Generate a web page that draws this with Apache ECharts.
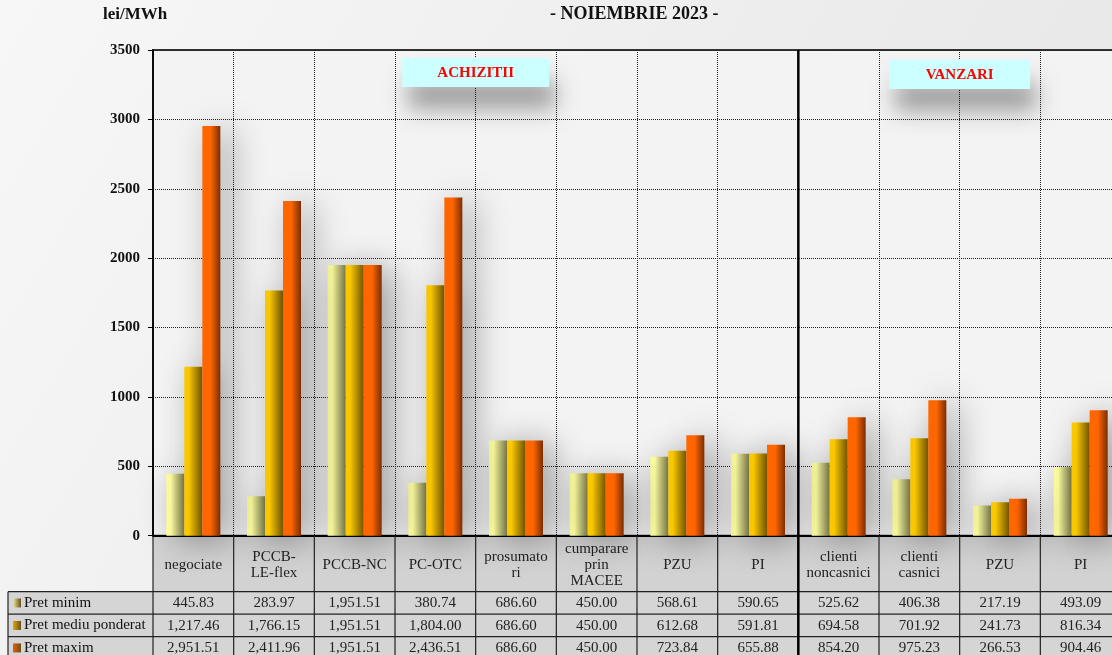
<!DOCTYPE html>
<html>
<head>
<meta charset="utf-8">
<script src="https://cdn.jsdelivr.net/npm/echarts@6/dist/echarts.min.js"></script>
<style>
    html, body { margin: 0; padding: 0; background: #f2f2f2; }
    #mainChart { width: 1112px; height: 655px; }
</style>
</head>
<body>
<div id="mainChart"></div>
<script>
// ---- date din tabel ----
var categories = ["negociate", "PCCB-\nLE-flex", "PCCB-NC", "PC-OTC", "prosumato\nri", "cumparare\nprin\nMACEE",
    "PZU", "PI", "clienti\nnoncasnici", "clienti\ncasnici", "PZU", "PI"];
var seriesNames = ["Pret minim", "Pret mediu ponderat", "Pret maxim"];
var pretMinim = [445.83, 283.97, 1951.51, 380.74, 686.60, 450.00, 568.61, 590.65, 525.62, 406.38, 217.19, 493.09];
var pretMediu = [1217.46, 1766.15, 1951.51, 1804.00, 686.60, 450.00, 612.68, 591.81, 694.58, 701.92, 241.73, 816.34];
var pretMaxim = [2951.51, 2411.96, 1951.51, 2436.51, 686.60, 450.00, 723.84, 655.88, 854.20, 975.23, 266.53, 904.46];
var groupLabels = ["ACHIZITII", "VANZARI"];
var groupCenters = [4, 10];   // granita dintre categorii unde sta eticheta
var separatorAt = 8;          // linia groasa intre achizitii si vanzari

(function () {
    "use strict";

    var FONT = "'Liberation Serif', 'Times New Roman', serif";
    var chart = echarts.init(document.getElementById("mainChart"));

    function grad(light, dark, stop) {
        return new echarts.graphic.LinearGradient(0, 0, 1, 0, [
            { offset: 0, color: light },
            { offset: stop, color: light },
            { offset: 1, color: dark },
        ]);
    }

    var colors = [
        grad("#ffffa0", "#7f7f50", 0.25),
        grad("#ffcc00", "#7a5c00", 0.25),
        grad("#ff6600", "#7a2e00", 0.45),
    ];
    var swatch = ["#e8e890", "#e0a800", "#e85a00"];

    function fmt(v) {
        var p = v.toFixed(2).split(".");
        p[0] = p[0].replace(/\B(?=(\d{3})+(?!\d))/g, ",");
        return p.join(".");
    }

    var dataRows = [pretMinim, pretMediu, pretMaxim];

    var series = dataRows.map(function (d, k) {
        return {
            name: seriesNames[k], type: "bar", data: d,
            barWidth: 18, barGap: "0%",
            itemStyle: {
                color: colors[k],
                shadowBlur: 34, shadowColor: "rgba(0,0,0,0.38)",
                shadowOffsetX: 10, shadowOffsetY: 4,
            },
        };
    });

    chart.setOption({
        animation: false,
        backgroundColor: new echarts.graphic.LinearGradient(0, 0, 1, 1, [
            { offset: 0, color: "#f7f7f7" },
            { offset: 1, color: "#e4e4e4" },
        ]),
        title: [
            { text: "- NOIEMBRIE 2023 -", left: 550, top: 5, padding: 0,
              textStyle: { fontFamily: FONT, fontSize: 18, fontWeight: "bold", color: "#111" } },
            { text: "lei/MWh", left: 103, top: 6, padding: 0,
              textStyle: { fontFamily: FONT, fontSize: 17, fontWeight: "bold", color: "#111" } },
        ],
        grid: {
            left: 153, top: 50, width: 968, height: 485.7,
            outerBoundsMode: "none",
            show: true, backgroundColor: "#f3f3f3",
            borderColor: "#333", borderWidth: 2,
        },
        xAxis: {
            type: "category", data: categories,
            axisLine: { lineStyle: { color: "#000", width: 2 } },
            axisTick: { show: false },
            axisLabel: {
                interval: 0, margin: 29, verticalAlign: "middle",
                fontFamily: FONT, fontSize: 15, lineHeight: 16, color: "#222", align: "center",
            },
            splitLine: { show: true, interval: 0, lineStyle: { color: "#222", type: "dotted", width: 1 } },
        },
        yAxis: {
            type: "value", min: 0, max: 3500, interval: 500,
            axisLine: { show: true, lineStyle: { color: "#000", width: 1.5 } },
            axisTick: { show: true, length: 5, lineStyle: { color: "#000" } },
            axisLabel: {
                margin: 13, fontFamily: FONT, fontSize: 15, fontWeight: "bold", color: "#111",
                formatter: function (v) { return String(v); },
            },
            splitLine: { lineStyle: { color: "#222", type: "dotted", width: 1 } },
        },
        series: series,
    });

    /** tabelul de date, casetele de grup si separatorul */
    function buildGraphics() {
        var x0 = chart.convertToPixel({ xAxisIndex: 0 }, 0);
        var x1 = chart.convertToPixel({ xAxisIndex: 0 }, 1);
        var band = x1 - x0;
        var left = x0 - band / 2;
        var right = left + band * categories.length;
        var yZero = chart.convertToPixel({ yAxisIndex: 0 }, 0);
        var yTop = chart.convertToPixel({ yAxisIndex: 0 }, 3500);
        var headH = 56, rowH = 22.5;
        var rowTop = yZero + headH;
        var els = [];

        // fundal tabel
        els.push({ type: "rect", z: -1, shape: { x: left, y: yZero, width: right - left, height: headH },
                   style: { fill: "#d2d2d2" } });
        els.push({ type: "rect", z: -1, shape: { x: 8, y: rowTop, width: right - 8, height: rowH * 3 + 2 },
                   style: { fill: "#d5d5d5" } });

        // linii verticale
        for (var i = 0; i <= categories.length; i++) {
            var bx = left + i * band;
            els.push({ type: "line", z: 4, shape: { x1: bx, y1: yZero, x2: bx, y2: 660 },
                       style: { stroke: "#222", lineWidth: 1.2 } });
        }
        // linii orizontale
        for (var r = 0; r <= 3; r++) {
            var hy = rowTop + r * rowH;
            els.push({ type: "line", z: 4, shape: { x1: 8, y1: hy, x2: right, y2: hy },
                       style: { stroke: "#222", lineWidth: 1.2 } });
        }
        els.push({ type: "line", z: 4, shape: { x1: 8, y1: rowTop, x2: 8, y2: 660 },
                   style: { stroke: "#222", lineWidth: 1.2 } });

        // separator achizitii / vanzari
        var sx = left + separatorAt * band;
        els.push({ type: "line", z: 6, shape: { x1: sx, y1: yTop, x2: sx, y2: 660 },
                   style: { stroke: "#000", lineWidth: 2.5 } });

        // valori + legenda
        dataRows.forEach(function (row, k) {
            var cy = rowTop + (k + 0.5) * rowH;
            els.push({ type: "rect", z: 5, shape: { x: 13, y: cy - 4.5, width: 8, height: 9 },
                       style: { fill: new echarts.graphic.LinearGradient(0, 0, 1, 0, [
                           { offset: 0, color: swatch[k] }, { offset: 1, color: "#6a5020" }]) } });
            els.push({ type: "text", z: 5, x: 24, y: cy,
                       style: { text: seriesNames[k], font: "15px " + FONT, fill: "#111",
                                align: "left", verticalAlign: "middle" } });
            row.forEach(function (v, i) {
                els.push({ type: "text", z: 5, x: left + (i + 0.5) * band, y: cy + 0.5,
                           style: { text: fmt(v), font: "15px " + FONT, fill: "#222",
                                    align: "center", verticalAlign: "middle" } });
            });
        });

        // casete ACHIZITII / VANZARI
        var boxW = [147, 141], boxY = [58, 60];
        groupLabels.forEach(function (lbl, g) {
            var cx = left + groupCenters[g] * band;
            els.push({ type: "rect", z: 7,
                       shape: { x: cx - boxW[g] / 2, y: boxY[g], width: boxW[g], height: 29 },
                       style: { fill: "#ccffff", shadowBlur: 22, shadowColor: "rgba(0,0,0,0.35)",
                                shadowOffsetX: 6, shadowOffsetY: 22 } });
            els.push({ type: "text", z: 8, x: cx, y: boxY[g] + 15,
                       style: { text: lbl, font: "bold 15px " + FONT, fill: "#ff0000",
                                align: "center", verticalAlign: "middle" } });
        });

        chart.setOption({ graphic: { elements: els } });
    }

    buildGraphics();
})();
</script>
</body>
</html>
